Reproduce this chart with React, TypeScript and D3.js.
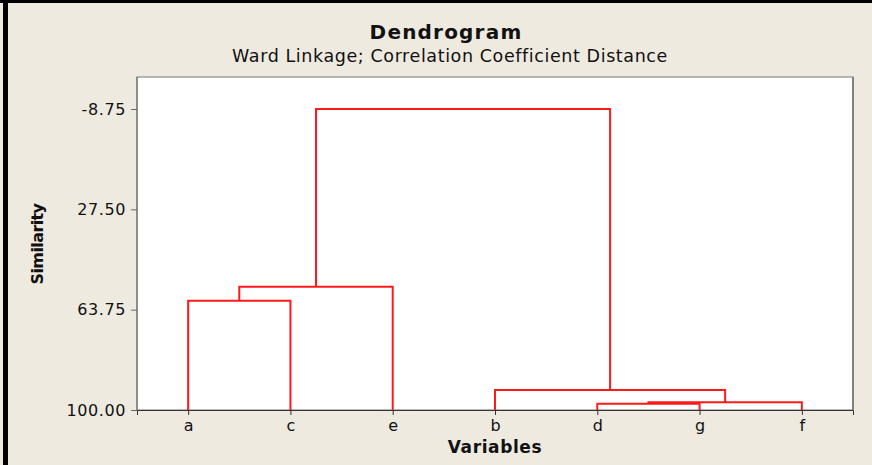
import * as d3 from 'd3'
import { useEffect, useRef } from 'react'

// leaf order along the x axis
const leaves = ['a', 'c', 'e', 'b', 'd', 'g', 'f']
const yTicks = [-8.75, 27.5, 63.75, 100]
// merges: left cluster, right cluster, similarity level
const merges: [string, string, number][] = [
  ['d', 'g', 97.7],
  ['dg', 'f', 97.2],
  ['b', 'dgf', 92.8],
  ['a', 'c', 60.5],
  ['ac', 'e', 55.5],
  ['ace', 'bdgf', -8.75],
]

const width = 872
const height = 465
const marginTop = 77
const marginRight = 19
const marginBottom = 55
const marginLeft = 137
const font = 'Tahoma, "DejaVu Sans", Verdana, sans-serif'

export default function App() {
  const x = d3
    .scalePoint(leaves, [marginLeft, width - marginRight])
    .padding(0.5)
  const y = d3.scaleLinear([100, -8.75], [height - marginBottom, 109])

  // node positions
  const nodes: Record<string, { x: number; y: number }> = {}
  leaves.forEach((l) => (nodes[l] = { x: x(l)!, y: y(100) }))
  const links = merges.map(([l, r, s]) => {
    const a = nodes[l]
    const b = nodes[r]
    const yy = y(s)
    nodes[l + r] = { x: (a.x + b.x) / 2, y: yy }
    return `M${a.x},${a.y}V${yy}H${b.x}V${b.y}`
  })

  const gx = useRef<SVGGElement>(null)
  const gy = useRef<SVGGElement>(null)

  useEffect(() => {
    const g = d3.select(gx.current)
    g.call(d3.axisBottom(x).tickSizeOuter(0).tickSize(5).tickPadding(5))
    g.select('.domain').attr('stroke', '#333')
    g.selectAll('.tick line').attr('stroke', '#333')
    g.selectAll('text').attr('font-size', 16).attr('font-family', font).attr('fill', '#111')
  }, [])
  useEffect(() => {
    const g = d3.select(gy.current)
    g.call(
      d3
        .axisLeft(y)
        .tickValues(yTicks)
        .tickFormat((d) => (+d).toFixed(2))
        .tickSizeOuter(0)
        .tickSize(6)
        .tickPadding(5)
    )
    g.select('.domain').attr('stroke', '#666').attr('d', `M0,${marginTop}V${height - marginBottom}`)
    g.selectAll('.tick line').attr('stroke', '#666')
    g.selectAll('text')
      .attr('font-size', 16)
      .attr('letter-spacing', 0.6)
      .attr('font-family', font)
      .attr('fill', '#111')
  }, [])

  return (
    <svg
      width={width}
      height={height}
      style={{ position: 'fixed', left: 0, top: 0 }}
    >
      <rect width={width} height={height} fill="#eeeae0" />
      <rect x={0} y={0} width={width} height={3} fill="#000" />
      <rect x={3} y={0} width={5} height={height} fill="#000" />
      <rect
        x={marginLeft}
        y={marginTop}
        width={width - marginRight - marginLeft}
        height={height - marginBottom - marginTop}
        fill="#fff"
        stroke="#777"
        strokeWidth={1}
      />
      <line
        x1={width - marginRight}
        x2={width - marginRight}
        y1={marginTop}
        y2={height - marginBottom}
        stroke="#808080"
        strokeWidth={2}
      />
      <text
        x={446}
        y={39}
        textAnchor="middle"
        fontFamily={font}
        fontWeight="bold"
        fontSize={20}
        letterSpacing={1.2}
        fill="#111"
      >
        Dendrogram
      </text>
      <text
        x={450}
        y={62}
        textAnchor="middle"
        fontFamily={font}
        fontSize={17.5}
        letterSpacing={0.6}
        fill="#111"
      >
        Ward Linkage; Correlation Coefficient Distance
      </text>
      <g fill="none" stroke="#ff1a1a" strokeWidth={2}>
        {links.map((d, i) => (
          <path key={i} d={d} />
        ))}
      </g>
      <g ref={gx} transform={`translate(0,${height - marginBottom})`} />
      <g ref={gy} transform={`translate(${marginLeft},0)`} />
      <text
        transform={`translate(43,244) rotate(-90)`}
        textAnchor="middle"
        fontFamily={font}
        fontWeight="bold"
        fontSize={16}
        letterSpacing={-0.6}
        fill="#111"
      >
        Similarity
      </text>
      <text
        x={495}
        y={453}
        textAnchor="middle"
        fontFamily={font}
        fontWeight="bold"
        fontSize={17}
        letterSpacing={0.6}
        fill="#111"
      >
        Variables
      </text>
    </svg>
  )
}
